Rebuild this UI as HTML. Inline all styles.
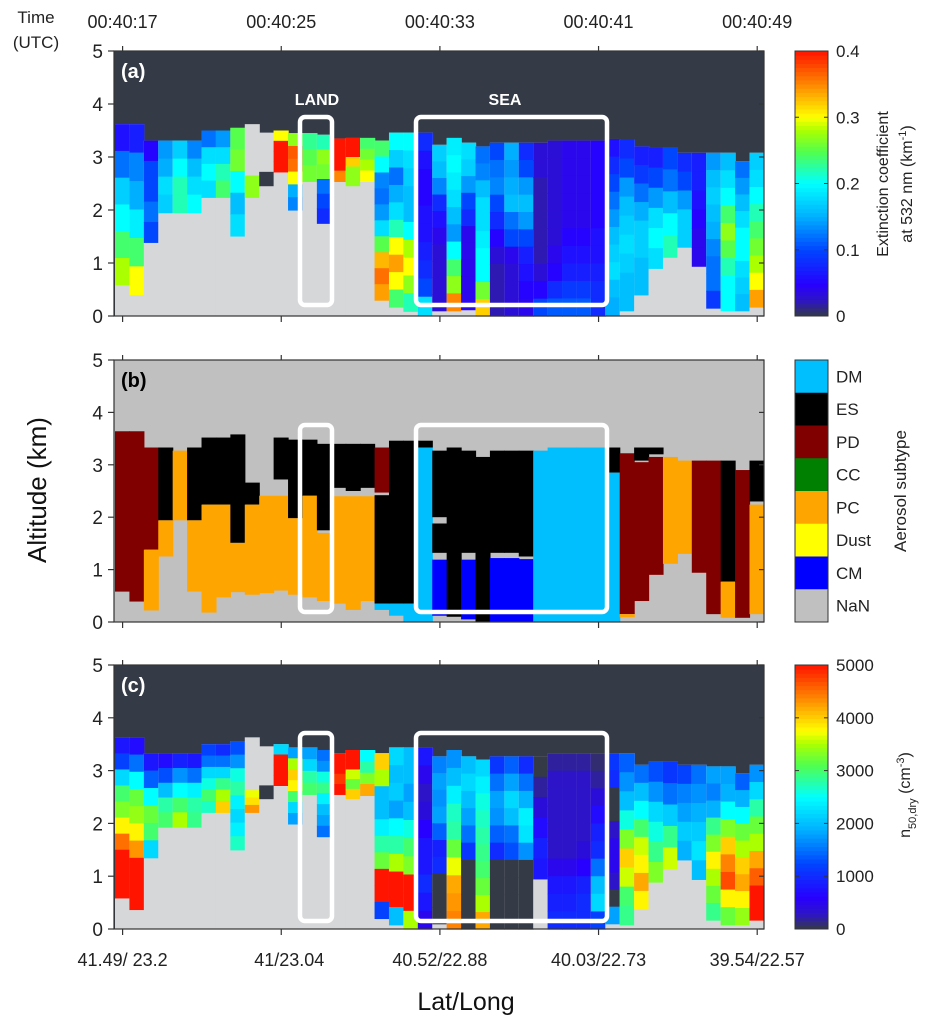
<!DOCTYPE html>
<html><head><meta charset="utf-8">
<style>
html,body{margin:0;padding:0;background:#fff;}
svg{display:block;font-family:"Liberation Sans",Arial,sans-serif;}
</style></head>
<body>
<svg id="fig" width="932" height="1030" viewBox="0 0 932 1030" xmlns="http://www.w3.org/2000/svg"></svg>
<script>
// ---------- DATA ----------
const nCols = 45;
const timeTicks = ["00:40:17","00:40:25","00:40:33","00:40:41","00:40:49"];
const latLonTicks = ["41.49/ 23.2","41/23.04","40.52/22.88","40.03/22.73","39.54/22.57"];
const altTicks = [0,1,2,3,4,5];
const extTicks = [0,0.1,0.2,0.3,0.4];
const nTicks = [0,1000,2000,3000,4000,5000];
const subtypeNames = ["DM","ES","PD","CC","PC","Dust","CM","NaN"];
const subtypeColors = {DM:"#00bfff",ES:"#000000",PD:"#800000",CC:"#008000",PC:"#ffa500",Dust:"#ffff00",CM:"#0000ff",NaN:"#c0c0c0"};

// Panel (a) extinction
const aTop = [3.62,3.62,3.31,3.31,3.31,3.31,3.5,3.5,3.55,2.65,2.72,3.5,3.45,3.45,3.42,3.35,3.36,3.36,3.31,3.46,3.46,3.46,3.23,3.36,3.27,3.2,3.27,3.27,3.27,3.27,3.31,3.31,3.31,3.31,3.34,3.33,3.2,3.18,3.18,3.08,3.08,3.08,3.08,2.92,3.08];
const aBot = [0.59,0.4,1.39,1.95,1.95,1.95,2.24,2.24,1.51,2.24,2.46,2.72,2.0,2.54,1.75,2.54,2.46,2.54,0.3,0.17,0.09,0.02,0.1,0.1,0.12,0,0,0,0,0,0,0,0,0,0.02,0.1,0.4,0.9,1.11,1.3,0.94,0.15,0.1,0.1,0.17];
const aNanTop = {9:3.62,10:3.46};
const aVals = [
[0.06,0.12,0.17,0.2,0.24,0.28],[0.07,0.13,0.15,0.19,0.24,0.3],[0.05,0.1,0.1,0.12,0.1],[0.14,0.15,0.18,0.17],[0.17,0.2,0.22,0.22],
[0.13,0.16,0.18,0.2],[0.12,0.18,0.2,0.18],[0.14,0.18,0.22,0.24],[0.25,0.26,0.2,0.16,0.18],[0.27,0.27],
[0],[0.3,0.4,0.4,0.4],[0.27,0.37,0.36,0.3,0.15,0.13],[0.23,0.25,0.26],[0.22,0.27,0.26,0.12,0.1,0.08],
[0.4,0.4,0.4,0.35],[0.4,0.4,0.32,0.27,0.27],[0.24,0.26,0.28,0.3],[0.24,0.2,0.13,0.12,0.14,0.18,0.25,0.33,0.36,0.34],[0.2,0.17,0.12,0.15,0.18,0.22,0.3,0.34,0.3,0.24],
[0.2,0.18,0.17,0.16,0.16,0.2,0.28,0.3,0.27,0.22],[0.08,0.06,0.05,0.05,0.06,0.06,0.07,0.08,0.1,0.18],[0.17,0.16,0.13,0.08,0.06,0.04,0.03,0.03,0.03,0.03],[0.19,0.2,0.19,0.18,0.16,0.14,0.2,0.24,0.27,0.35],[0.18,0.17,0.14,0.1,0.08,0.04,0.04,0.04,0.04,0.04],
[0.12,0.13,0.16,0.18,0.18,0.19,0.2,0.2,0.26,0.32],[0.1,0.12,0.13,0.1,0.08,0.05,0.03,0.02,0.02,0.02],[0.15,0.14,0.15,0.16,0.12,0.1,0.04,0.03,0.03,0.03],[0.08,0.1,0.14,0.16,0.14,0.1,0.07,0.06,0.05,0.04],[0.03,0.03,0.02,0.02,0.02,0.02,0.02,0.03,0.05,0.1],
[0.03,0.03,0.03,0.03,0.03,0.03,0.04,0.05,0.08,0.11],[0.04,0.04,0.04,0.04,0.04,0.05,0.06,0.07,0.09,0.11],[0.04,0.04,0.04,0.04,0.04,0.05,0.06,0.07,0.09,0.11],[0.05,0.05,0.05,0.05,0.05,0.06,0.06,0.07,0.08,0.08],[0.06,0.08,0.1,0.12,0.14,0.16,0.17,0.18,0.16,0.15],
[0.08,0.1,0.14,0.16,0.17,0.18,0.17,0.16,0.16],[0.07,0.09,0.12,0.15,0.17,0.17,0.16,0.16],[0.07,0.1,0.14,0.18,0.2,0.18],[0.1,0.12,0.16,0.2,0.22],[0.08,0.1,0.14,0.17,0.17],
[0.07,0.07,0.06,0.05,0.04,0.04],[0.14,0.16,0.17,0.16,0.15,0.13,0.12,0.12,0.09],[0.16,0.18,0.2,0.24,0.27,0.25,0.22,0.2,0.2],[0.12,0.14,0.16,0.18,0.2,0.2,0.18,0.17,0.16],[0.17,0.18,0.2,0.22,0.24,0.26,0.28,0.3,0.34]
];

// Panel (b) aerosol subtype segments [type, top km, bottom km]
const bSegs = [
[["PD",3.64,0.58]],[["PD",3.64,0.39]],[["PD",3.33,1.38],["PC",1.38,0.22]],[["ES",3.33,1.94],["PC",1.94,1.25]],[["PC",3.27,1.94]],
[["ES",3.33,1.94],["PC",1.94,0.58]],[["ES",3.52,2.24],["PC",2.24,0.18]],[["ES",3.52,2.24],["PC",2.24,0.47]],[["ES",3.58,1.51],["PC",1.51,0.57]],[["ES",2.66,2.24],["PC",2.24,0.52]],
[["PC",2.41,0.55]],[["ES",3.52,2.72],["PC",2.41,0.6]],[["ES",3.48,1.98],["PC",1.98,0.52]],[["ES",3.48,2.41],["PC",2.41,0.47]],[["ES",3.4,1.75],["PC",1.7,0.4]],
[["ES",3.4,2.56],["PC",2.4,0.35]],[["ES",3.4,2.5],["PC",2.4,0.23]],[["ES",3.4,2.56],["PC",2.4,0.4]],[["PD",3.33,2.47],["ES",2.42,0.35],["DM",0.35,0.23]],[["ES",3.46,0.35],["DM",0.35,0.12]],
[["ES",3.46,0.35],["DM",0.35,0]],[["ES",3.46,3.33],["DM",3.33,0]],[["ES",3.27,2.0],["ES",1.88,1.32],["CM",1.19,0.12]],[["ES",3.33,0.1]],[["ES",3.27,1.32],["CM",1.19,0.05]],
[["ES",3.15,0]],[["ES",3.27,1.32],["CM",1.22,0]],[["ES",3.27,1.32],["CM",1.22,0]],[["ES",3.27,1.25],["CM",1.2,0]],[["DM",3.27,0]],
[["DM",3.33,0]],[["DM",3.33,0]],[["DM",3.33,0]],[["DM",3.33,0]],[["ES",3.33,2.85],["DM",2.85,0]],
[["PD",3.22,0.15],["PC",0.15,0.09]],[["ES",3.33,3.08],["PD",3.05,0.4]],[["ES",3.33,3.2],["PD",3.15,0.9]],[["PC",3.15,1.11]],[["PC",3.08,1.3]],
[["PD",3.08,0.94]],[["PD",3.08,0.15]],[["ES",3.08,0.77],["PC",0.77,0.08]],[["PD",2.9,0.08]],[["ES",3.08,2.3],["PC",2.24,0.15]]
];

// Panel (c) n50,dry
const cTop = [3.63,3.63,3.33,3.33,3.33,3.33,3.5,3.5,3.56,2.63,2.72,3.5,3.44,3.44,3.39,3.33,3.39,3.39,3.33,3.44,3.44,3.44,3.27,3.39,3.27,3.21,3.27,3.27,3.27,3.27,3.33,3.33,3.33,3.33,3.33,3.33,3.11,3.17,3.17,3.11,3.11,3.08,3.08,2.95,3.11];
const cBot = [0.59,0.37,1.35,1.93,1.93,1.93,2.21,2.21,1.5,2.21,2.47,2.72,1.99,2.55,1.75,2.55,2.47,2.53,0.2,0.08,0,0,0.1,0,0,0,0,0,0,0.95,0,0,0,0,0.1,0.08,0.38,0.89,1.14,1.31,0.94,0.17,0.08,0.08,0.17];
const cNanTop = {9:3.63,10:3.46};
const cVals = [
[800,1200,2200,3000,3300,3800,4500,5000,5000,5000],[700,1500,2500,3200,3400,3800,4300,5000,5000,5000],[800,1400,2500,3200,3000,2200],[700,1300,2000,2800,3000],[900,1700,2500,3000,3500],
[800,1500,2400,2800,2900],[1200,1500,2200,2600,3000,2700],[1000,1500,2200,2900,3500,4000],[1300,1700,2600,2800,2400,2200,2400,2700],[3700,3900,4300],
[0],[2200,5000,5000,5000],[1800,3500,4000,3800,3000,2200,1800],[1800,2200,2800,3000],[1500,1700,2600,2900,2400,2000,1800,1500],
[5000,5000,4800,5000],[5000,5000,3600,3200,4000],[2500,2800,3300,4200],[4000,3500,2000,2000,2400,2800,3200,5000,5000,1200],[2200,2000,2100,1800,2500,2800,3500,5000,5000,2000],
[2000,2000,1800,2000,2600,3000,3300,5000,5000,3500],[800,500,300,400,600,800,800,1000,800,500],[1600,1800,1700,1800,1400,900,1000,0,0,0],[1700,2000,2400,2700,2800,3200,3700,4200,4300,4400],[2000,2200,2000,1800,1500,1100,0,0,0,0],
[2200,2400,2600,2700,2800,2900,3000,3200,3500,4200],[1100,1500,1800,1700,1400,1000,0,0,0,0],[1400,1800,2200,2000,1500,1300,0,0,0,0],[1000,1500,1900,2400,2300,1700,0,0,0,0],[0,200,400,700,900,800],
[200,300,300,300,300,300,500,800,900,1000],[200,300,300,300,300,300,500,800,900,1000],[200,300,300,300,300,400,600,900,1000,1000],[100,200,400,700,900,1000,1500,2000,2200,1200],[1100,1000,0,0,300,500,500,300,0,1800],
[1400,1700,2000,2600,3300,4000,3600,3000,2900],[1500,2000,2500,3000,3600,3800,4200,3800],[1300,1700,2200,2600,2900,3300],[1100,1500,2100,2900,3600],[1200,1600,1800,2100,1900],
[1500,1700,1900,2100,2300,2000],[1800,1600,1900,2900,3300,3800,3500,3200,2900],[1800,1900,2500,3300,4000,4400,4700,3800,3200],[1400,1900,2500,3200,3500,4000,4200,3800,3400],[1700,2200,2800,3200,3500,4200,4600,5000,5000]
];

// ---------- LAYOUT ----------
const X0 = 114, X1 = 764, COLX0 = 115, COLW = 14.42;
const panels = [
  {y0:316, y5:51, name:"a"},
  {y0:622, y5:360, name:"b"},
  {y0:929, y5:665, name:"c"}
];
const NS = "http://www.w3.org/2000/svg";
const svg = document.getElementById("fig");
function el(tag, attrs, parent){const e=document.createElementNS(NS,tag);for(const k in attrs)e.setAttribute(k,attrs[k]);(parent||svg).appendChild(e);return e;}
function txt(s, attrs, parent){const e=el("text",attrs,parent);e.textContent=s;return e;}

const stops=[[0,[52,58,70]],[0.06,[45,20,200]],[0.12,[40,0,255]],[0.25,[0,70,255]],[0.375,[0,175,255]],[0.5,[0,255,255]],[0.62,[80,255,80]],[0.7,[170,255,0]],[0.75,[255,255,0]],[0.87,[255,140,0]],[1,[255,20,0]]];
function cmap(t){t=Math.max(0,Math.min(1,t));for(let i=1;i<stops.length;i++){if(t<=stops[i][0]){const a=stops[i-1],b=stops[i];const f=(t-a[0])/(b[0]-a[0]);const c=a[1].map((v,j)=>Math.round(v+(b[1][j]-v)*f));return `rgb(${c[0]},${c[1]},${c[2]})`;}}return "rgb(255,20,0)";}
function xCol(i){return COLX0+i*COLW;}
function yAlt(p,km){return p.y0+(p.y5-p.y0)*km/5;}

function drawHeat(p, tops, bots, vals, vmax, nanTop, bg){
  const g=el("g",{});
  
  
  const bgr=el("rect",{x:X0,y:p.y5,width:X1-X0,height:p.y0-p.y5,fill:bg},g);
  
  
  for(let i=0;i<nCols;i++){
    const nt = (nanTop[i]!==undefined)?nanTop[i]:tops[i];
    const gr=el("rect",{x:xCol(i),y:yAlt(p,nt),width:COLW+0.6,height:yAlt(p,0)-yAlt(p,nt),fill:"#d6d7d9"},g);
    
    
    const v=vals[i];const n=v.length;const h=(tops[i]-bots[i])/n;
    for(let k=0;k<n;k++){
      const t=tops[i]-k*h;
      const r=el("rect",{x:xCol(i),y:yAlt(p,t),width:COLW+0.6,height:yAlt(p,t-h)-yAlt(p,t)+0.6,fill:cmap(v[k]/vmax)},g);
      
      
    }
  }
}
function drawFrame(p){
  const f=el("rect",{x:X0,y:p.y5,width:X1-X0,height:p.y0-p.y5,fill:"none",stroke:"#333",["stroke-width"]:1.2});
  
  
  altTicks.forEach(a=>{
    const y=yAlt(p,a);
    el("line",{x1:X0-6,x2:X0,y1:y,y2:y,stroke:"#333","stroke-width":1.2});
    el("line",{x1:X1,x2:X1-5,y1:y,y2:y,stroke:"#333","stroke-width":1.2});
    const t=txt(String(a),{x:X0-11,y:y+7,"font-size":19,"text-anchor":"end",fill:"#222"});
    
    
  });
  for(let k=0;k<5;k++){
    const x=122.6+k*158.65;
    el("line",{x1:x,x2:x,y1:p.y0,y2:p.y0+6,stroke:"#333","stroke-width":1.2});
    el("line",{x1:x,x2:x,y1:p.y5,y2:p.y5-5,stroke:"#333","stroke-width":1.2});
  }
}
function box(p,x1,x2,y1,y2,nm){
  const r=el("rect",{x:x1,y:y1,width:x2-x1,height:y2-y1,rx:5,fill:"none",stroke:"#fff","stroke-width":4.5});
  
  
}

// panel a
drawHeat(panels[0],aTop,aBot,aVals,0.4,aNanTop,"#343a46");
// panel b
(function(){
  const p=panels[1];
  const bg=el("rect",{x:X0,y:p.y5,width:X1-X0,height:p.y0-p.y5,fill:"#c0c0c0"});
  
  
  bSegs.forEach((segs,i)=>segs.forEach(s=>{
    const r=el("rect",{x:xCol(i),y:yAlt(p,s[1]),width:COLW+0.6,height:yAlt(p,s[2])-yAlt(p,s[1]),fill:subtypeColors[s[0]]});
    
    
  }));
})();
// panel c
drawHeat(panels[2],cTop,cBot,cVals,5000,cNanTop,"#343a46");

panels.forEach(drawFrame);

// boxes
box(panels[0],300,332,117,305,"land-box-a"); box(panels[0],416,607,117,305,"sea-box-a");
box(panels[1],300,332,425,612,"land-box-b"); box(panels[1],416,607,425,612,"sea-box-b");
box(panels[2],300,332,733,921,"land-box-c"); box(panels[2],416,607,733,921,"sea-box-c");

// panel letters & region labels
[["(a)",panels[0],"#fff"],["(b)",panels[1],"#000"],["(c)",panels[2],"#fff"]].forEach(d=>{
  const t=txt(d[0],{x:121,y:d[1].y5+27,"font-size":20,"font-weight":"bold",fill:d[2]});
  
  
});
let t;
t=txt("LAND",{x:317,y:105,"font-size":16,"font-weight":"bold",fill:"#fff","text-anchor":"middle"});

t=txt("SEA",{x:505,y:105,"font-size":16,"font-weight":"bold",fill:"#fff","text-anchor":"middle"});


// top time axis
timeTicks.forEach((s,k)=>{
  const tt=txt(s,{x:122.6+k*158.65,y:28,"font-size":18,"text-anchor":"middle",fill:"#222"});
  
  
});
t=txt("Time",{x:36,y:23,"font-size":17,"text-anchor":"middle",fill:"#222"});

t=txt("(UTC)",{x:36,y:48,"font-size":17,"text-anchor":"middle",fill:"#222"});


// bottom lat/long
latLonTicks.forEach((s,k)=>{
  const tt=txt(s,{x:122.6+k*158.65+(k==1?8:0),y:966,"font-size":18,"text-anchor":"middle",fill:"#222"});
  
  
});
t=txt("Lat/Long",{x:466,y:1010,"font-size":25,"text-anchor":"middle",fill:"#111"});

t=txt("Altitude (km)",{x:0,y:0,"font-size":26,"text-anchor":"middle",fill:"#111",transform:"translate(46,490) rotate(-90)"});


// colorbars
function colorbar(p,ticks,vmax,fmt,nm){
  const g=el("g",{});
  
  
  const N=64,h=(p.y0-p.y5)/N;
  for(let k=0;k<N;k++){el("rect",{x:795,y:p.y0-(k+1)*h,width:33,height:h+0.5,fill:cmap((k+0.5)/N)},g);}
  el("rect",{x:795,y:p.y5,width:33,height:p.y0-p.y5,fill:"none",stroke:"#333","stroke-width":1},g);
  ticks.forEach(v=>{
    const y=p.y0-(p.y0-p.y5)*v/vmax;
    el("line",{x1:828,x2:824,y1:y,y2:y,stroke:"#333"},g);
    el("line",{x1:795,x2:799,y1:y,y2:y,stroke:"#333"},g);
    const tt=txt(fmt(v),{x:836,y:y+6,"font-size":17,fill:"#222"},g);
    
    
  });
}
colorbar(panels[0],extTicks,0.4,v=>v===0?"0":v.toFixed(1),"extinction-colorbar");
colorbar(panels[2],nTicks,5000,v=>String(v),"n50-colorbar");

t=el("text",{x:0,y:0,"font-size":16,"text-anchor":"middle",fill:"#222",transform:"translate(888,184) rotate(-90)"});
t.textContent="Extinction coefficient";

t=el("text",{x:0,y:0,"font-size":16,"text-anchor":"middle",fill:"#222",transform:"translate(912,184) rotate(-90)"});
t.innerHTML='at 532 nm (km<tspan baseline-shift="super" font-size="11">-1</tspan>)';

t=el("text",{x:0,y:0,"font-size":16,"text-anchor":"middle",fill:"#222",transform:"translate(910,795) rotate(-90)"});
t.innerHTML='n<tspan baseline-shift="sub" font-size="11">50,dry</tspan> (cm<tspan baseline-shift="super" font-size="11">-3</tspan>)';


// subtype legend
(function(){
  const p=panels[1];const h=(p.y0-p.y5)/subtypeNames.length;
  subtypeNames.forEach((nm,k)=>{
    const r=el("rect",{x:795,y:p.y5+k*h,width:33,height:h+0.5,fill:subtypeColors[nm]});
    
    
    const tt=txt(nm,{x:836,y:p.y5+k*h+h/2+6,"font-size":17,fill:"#222"});
    
    
  });
  el("rect",{x:795,y:p.y5,width:33,height:p.y0-p.y5,fill:"none",stroke:"#333","stroke-width":1});
  const tt=el("text",{x:0,y:0,"font-size":17,"text-anchor":"middle",fill:"#222",transform:"translate(906,491) rotate(-90)"});
  tt.textContent="Aerosol subtype";
  
  
})();
</script>
</body></html>
